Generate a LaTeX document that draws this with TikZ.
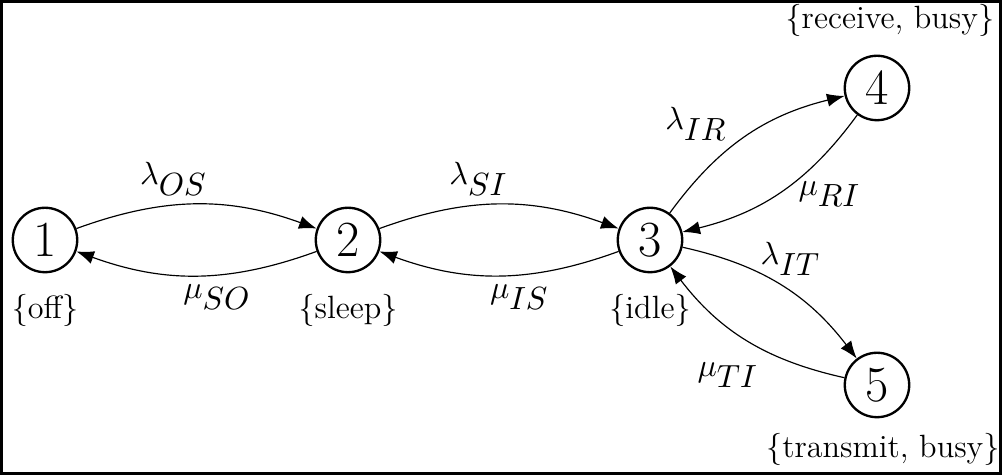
\documentclass[tikz,border=0pt]{standalone}
\usetikzlibrary{arrows.meta,positioning}
\tikzstyle{state}=[circle,draw,thick,minimum size=22pt,inner sep=0pt,font=\fontsize{18.5}{20}\selectfont]
\tikzstyle{edge} = [draw,-{Latex[length=6pt,width=4.5pt]}]
\tikzstyle{rate} = [font=\fontsize{10.5}{12}\selectfont]
\tikzstyle{statelabel} = [inner sep=2pt,font=\fontsize{11}{13}\selectfont]

\begin{document}
\begin{tikzpicture}[x=1.2cm,y=1.2cm]
	\useasboundingbox (0,0) rectangle (10.02,4.75);
	\draw[line width=0.8pt] (0.015,0.015) rectangle (10.005,4.735);

	% First we draw the states
	\foreach \pos/\name in {{(0.45,2.35)/1}, {(3.48,2.35)/2}, {(6.50,2.35)/3}, {(8.77,3.87)/4}, {(8.77,0.90)/5}}
	\node[state] (\name) at \pos {$\name$};

	% What each state stands for
	\node[statelabel, below=5pt of 1] (off) {\{off\}};
	\node[statelabel, below=5pt of 2] (sleep) {\{sleep\}};
	\node[statelabel, below=5pt of 3] (idle) {\{idle\}};
	\node[statelabel, above=4pt of 4, xshift=4.4pt] (receive) {\{receive, busy\}};
	\node[statelabel, below=3pt of 5, xshift=2pt] (transmit) {\{transmit, busy\}};

	% Transitions with their rates
	\foreach \source/\dest/\sym/\sub/\where/\side in {1/2/\lambda/OS/0.4/south, 2/1/\mu/SO/0.41/north, 2/3/\lambda/SI/0.41/south, 3/2/\mu/IS/0.41/north, 3/4/\lambda/IR/0.45/-25, 4/3/\mu/RI/0.46/170, 3/5/\lambda/IT/0.5/250, 5/3/\mu/TI/0.37/north east}
	\path[edge] (\source) to[bend left=20] node[rate, pos=\where, anchor=\side] {$\sym_{\textstyle\sub}$} (\dest);
\end{tikzpicture}
\end{document}
